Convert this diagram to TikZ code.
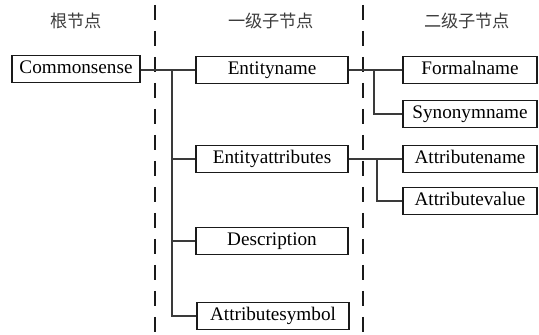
\documentclass[tikz,border=0pt]{standalone}
\usepackage{fontspec}
\setmainfont{Liberation Serif}
\newfontfamily\cjk{Noto Sans CJK SC}
\usepackage{tikz}
\usetikzlibrary{positioning,calc}
\definecolor{ink}{HTML}{1A1A1A}
\definecolor{rule}{HTML}{3A3A3A}
\tikzset{
  every node/.style={font=\fontsize{9.6}{11.5}\selectfont},
  % --- nodes
  box/.style  = {draw=ink, line width=0.7pt, fill=white, inner sep=1pt,
                 minimum height=13.5pt, text height=6.6pt, text depth=1.6pt,
                 align=center},
  root/.style = {box, minimum width=64pt},
  lvone/.style= {box, minimum width=76pt},
  lvtwo/.style= {box, minimum width=67pt},
  head/.style = {font=\cjk\fontsize{8.6}{10}\selectfont, text=ink!85},
  % --- edges
  e/.style    = {draw=rule, line width=0.55pt},
  sep/.style  = {draw=ink, line width=0.6pt, dash pattern=on 7.5pt off 5.5pt},
}
\begin{document}
\begin{tikzpicture}[x=0.5pt,y=-0.5pt]
  \useasboundingbox (0,0) rectangle (539,335);
  % column heads
  \node[head] (h0) at (76,21)  {根节点};
  \node[head] (h1) at (271,21) {一级子节点};
  \node[head] (h2) at (467,21) {二级子节点};
  % separators
  \coordinate (s1a) at (155,5); \coordinate (s1b) at (155,335);
  \coordinate (s2a) at (363,5); \coordinate (s2b) at (363,335);
  \draw[sep] (s1a)--(s1b); \draw[sep] (s2a)--(s2b);
  % root
  \node[root] (cs) at (76,69) {Commonsense};
  % first level
  \node[lvone] (en) at (272,70)  {Entityname};
  \node[lvone] (ea) at (272,159) {Entityattributes};
  \node[lvone] (de) at (272,241) {Description};
  \node[lvone] (as) at (273,316) {Attributesymbol};
  % second level
  \node[lvtwo] (fm) at (470,70)  {Formalname};
  \node[lvtwo] (sy) at (470,114) {Synonymname};
  \node[lvtwo] (an) at (470,159) {Attributename};
  \node[lvtwo] (av) at (470,201) {Attributevalue};
  % joints
  \coordinate (j0) at (172,70);
  \coordinate (j1) at (374,70);
  \coordinate (j2) at (377,159);
  \draw[e] (cs.east |- j0)--(en); \draw[e] (j0) |- (ea); \draw[e] (j0) |- (de); \draw[e] (j0) |- (as);
  \draw[e] (en)--(fm); \draw[e] (j1) |- (sy);
  \draw[e] (ea)--(an); \draw[e] (j2) |- (av);
\end{tikzpicture}
\end{document}
